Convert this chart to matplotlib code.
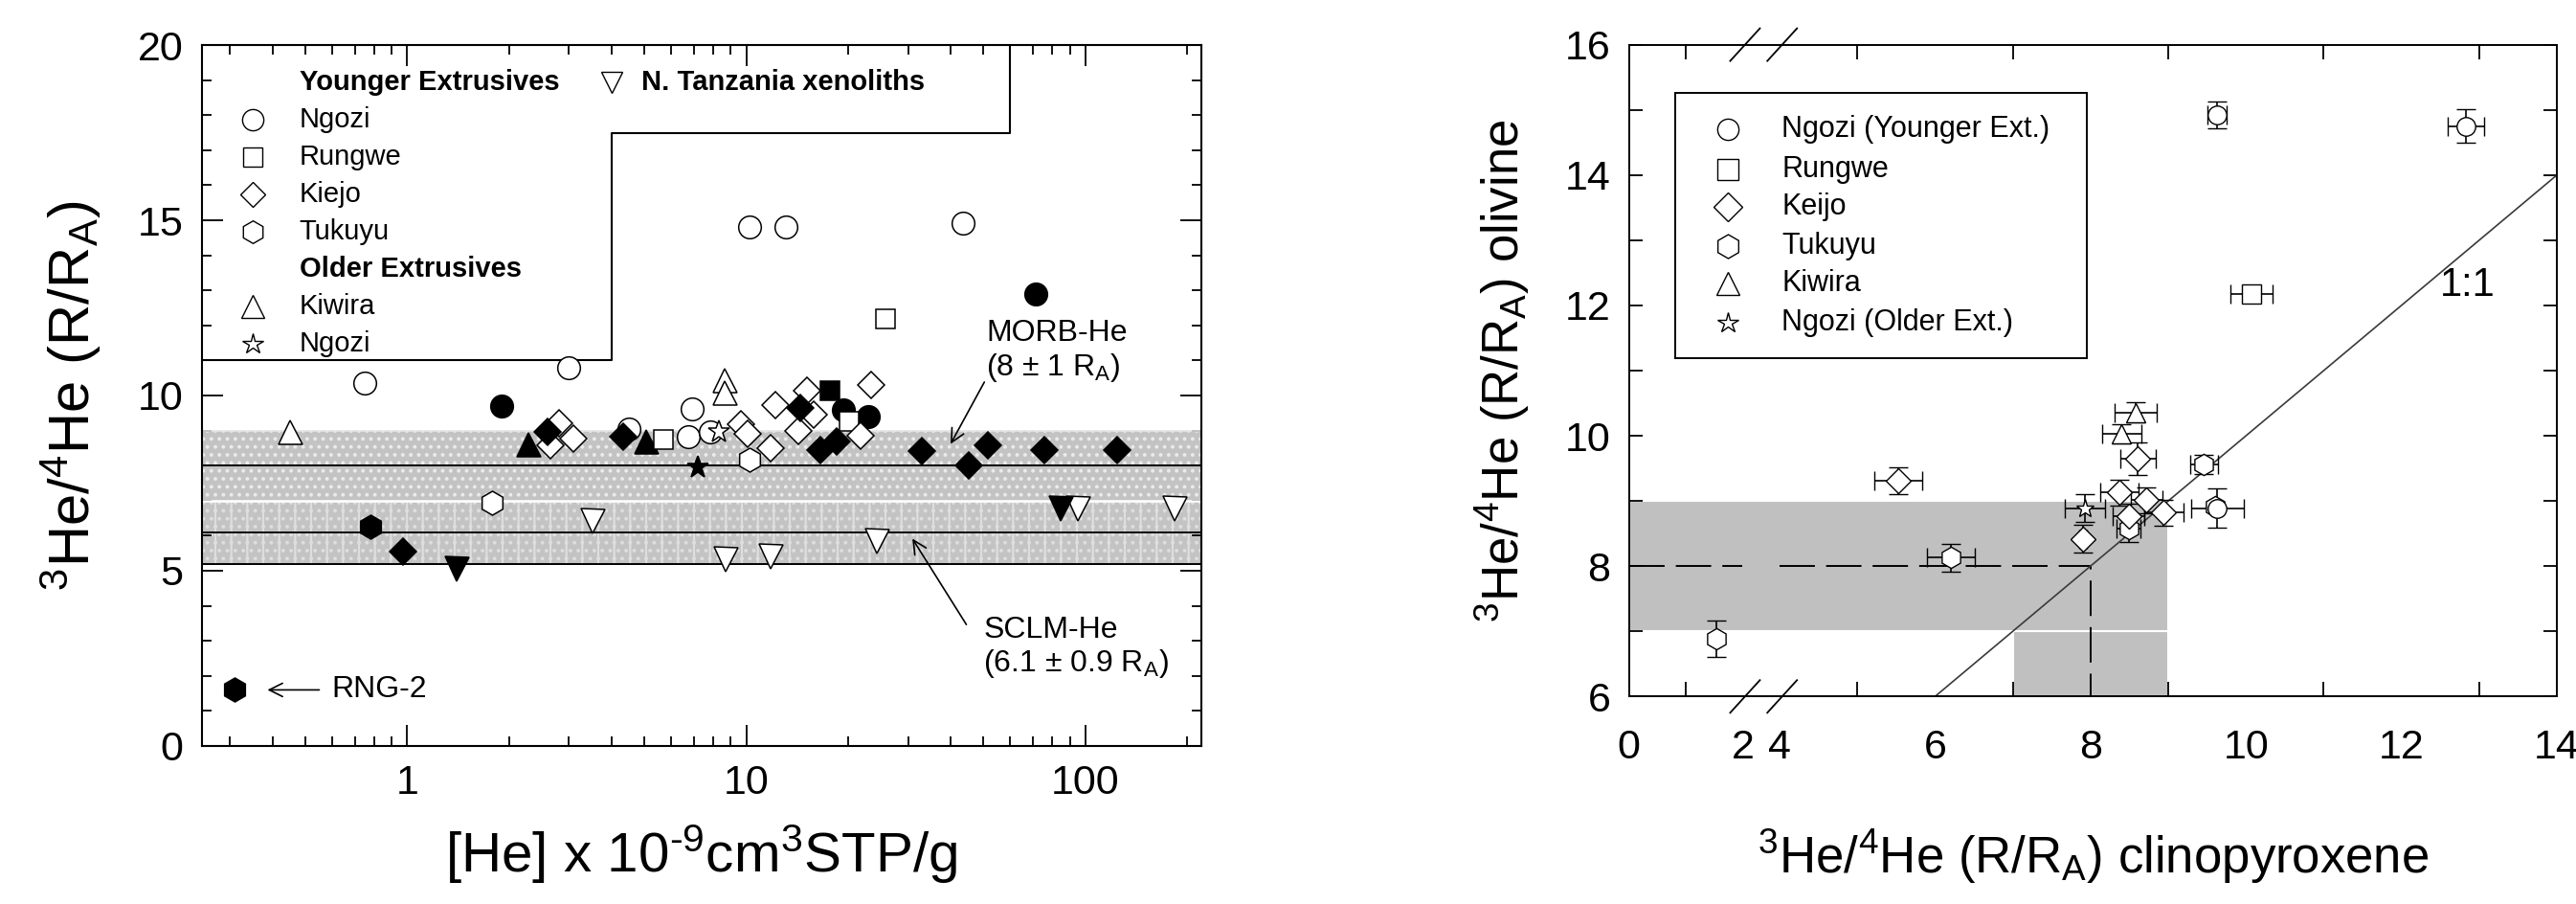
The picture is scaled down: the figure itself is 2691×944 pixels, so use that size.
import numpy as np
import matplotlib
matplotlib.use("Agg")
import matplotlib.pyplot as plt
from matplotlib.ticker import LogLocator, NullFormatter, MultipleLocator, FixedLocator
from matplotlib.patches import Rectangle

plt.rcParams['font.family'] = ['Liberation Sans', 'DejaVu Sans']
plt.rcParams['mathtext.fontset'] = 'custom'
plt.rcParams['mathtext.rm'] = 'Liberation Sans'
plt.rcParams['mathtext.it'] = 'Liberation Sans'
plt.rcParams['mathtext.default'] = 'regular'
plt.rcParams['hatch.linewidth'] = 1.6

# ---------------- left panel: 3He/4He vs [He] ----------------
# open = white filled symbol, fill = black filled symbol
ngozi_open_x = [0.75, 2.99, 4.51, 6.74, 6.92, 7.84, 10.2, 13.1, 43.7]
ngozi_open_y = [10.35, 10.8, 9.05, 8.82, 9.61, 8.95, 14.8, 14.8, 14.93]
ngozi_fill_x = [1.90, 19.3, 22.9, 71.2]
ngozi_fill_y = [9.71, 9.6, 9.41, 12.9]
rungwe_open_x = [5.70, 20.1, 25.8]
rungwe_open_y = [8.73, 9.27, 12.18]
rungwe_fill_x = [17.7]
rungwe_fill_y = [10.13]
kiejo_open_x = [2.65, 2.80, 3.09, 9.64, 10.1, 11.8, 12.2, 14.2, 15.1, 15.8, 21.7, 23.4]
kiejo_open_y = [8.59, 9.22, 8.77, 9.18, 8.9, 8.5, 9.73, 9.0, 10.13, 9.45, 8.86, 10.29]
kiejo_fill_x = [0.97, 2.60, 4.32, 14.4, 16.5, 18.5, 33.0, 45.4, 51.7, 75.5, 123.7]
kiejo_fill_y = [5.55, 8.95, 8.82, 9.64, 8.45, 8.68, 8.41, 8.0, 8.59, 8.45, 8.45]
tukuyu_open_x = [1.78, 10.2]
tukuyu_open_y = [6.95, 8.18]
tukuyu_fill_x = [0.78, 0.31]
tukuyu_fill_y = [6.27, 1.62]
kiwira_open_x = [0.45, 8.65, 8.65]
kiwira_open_y = [8.95, 10.45, 10.09]
kiwira_fill_x = [2.28, 5.08]
kiwira_fill_y = [8.6, 8.68]
ngozi_old_open_x = [8.28]
ngozi_old_open_y = [8.95]
ngozi_old_fill_x = [7.19]
ngozi_old_fill_y = [7.95]
tanz_open_x = [3.52, 8.67, 11.8, 24.3, 95.2, 183]
tanz_open_y = [6.41, 5.32, 5.41, 5.85, 6.77, 6.77]
tanz_fill_x = [1.40, 84.8]
tanz_fill_y = [5.05, 6.77]

morb_band = (7.0, 9.0, 8.0)
sclm_band = (5.2, 7.0, 6.1)

legend_rows = ['Younger Extrusives', 'Ngozi', 'Rungwe', 'Kiejo', 'Tukuyu',
               'Older Extrusives', 'Kiwira', 'Ngozi']
legend_marks = [None, 'o', 's', 'D', 'h', None, '^', '*']

# ---------------- right panel: olivine vs clinopyroxene ----------------
# (cpx, cpx err, olivine, olivine err)
r_ngozi = dict(x=[9.63, 12.83, 9.63], xe=[0.12, 0.23, 0.34], y=[14.92, 14.75, 8.89], ye=[0.21, 0.26, 0.30])
r_rungwe = dict(x=[10.07], xe=[0.27], y=[12.17], ye=[0.10])
r_keijo = dict(x=[5.53, 8.61, 8.37, 8.72, 8.94, 8.49, 7.90],
               xe=[0.31, 0.23, 0.25, 0.20, 0.25, 0.20, 0.05],
               y=[9.31, 9.65, 9.13, 9.01, 8.82, 8.76, 8.42],
               ye=[0.20, 0.25, 0.20, 0.20, 0.20, 0.20, 0.21])
r_tukuyu = dict(x=[1.545, 6.20, 9.46, 8.49, 9.60], xe=[0.0, 0.31, 0.18, 0.15, 0.0],
                y=[6.89, 8.13, 9.56, 8.57, 8.92], ye=[0.28, 0.21, 0.15, 0.20, 0.0])
r_kiwira = dict(x=[8.58, 8.40], xe=[0.27, 0.25], y=[10.36, 10.03], ye=[0.15, 0.15])
r_ngozi_old = dict(x=[7.93], xe=[0.26], y=[8.89], ye=[0.21])

r_legend = ['Ngozi (Younger Ext.)', 'Rungwe', 'Keijo', 'Tukuyu', 'Kiwira', 'Ngozi (Older Ext.)']
r_legend_marks = ['o', 's', 'D', 'h', '^', '*']

fig = plt.figure(figsize=(26.91, 9.44), dpi=100)
axL = fig.add_axes([0.0784, 0.1748, 0.3880, 0.7754])
axR = fig.add_axes([0.6324, 0.2296, 0.3602, 0.7210])

# ---- left ----
axL.set_xscale('log')
axL.set_xlim(0.248, 220)
axL.set_ylim(0, 20)

axL.axhspan(morb_band[0], morb_band[1], facecolor='#c3c3c3', edgecolor='#ebebeb',
            hatch='..', lw=0, zorder=1)
axL.axhspan(sclm_band[0], sclm_band[1], facecolor='#c3c3c3', edgecolor='#dedede',
            hatch='|..', lw=0, zorder=1)
axL.axhline(morb_band[1], color='#e4e4e4', lw=1.2, zorder=2)
axL.axhline(morb_band[0], color='white', lw=1.8, zorder=2)
axL.axhline(morb_band[2], color='k', lw=1.4, zorder=2)
axL.axhline(sclm_band[2], color='k', lw=1.4, zorder=2)
axL.axhline(sclm_band[0], color='k', lw=1.4, zorder=2)

sizes = {'o': 17, 's': 15, 'D': 14.5, 'h': 18, '^': 18, '*': 17, 'v': 18}


def pts(ax, x, y, m, filled, ms=None):
    ax.plot(x, y, ls='none', marker=m, ms=ms or sizes[m],
            mfc='k' if filled else 'white', mec='k', mew=1.1, zorder=5)


pts(axL, ngozi_fill_x, ngozi_fill_y, 'o', True)
pts(axL, ngozi_open_x, ngozi_open_y, 'o', False)
pts(axL, kiwira_open_x, kiwira_open_y, '^', False)
pts(axL, kiwira_fill_x, kiwira_fill_y, '^', True)
pts(axL, rungwe_open_x, rungwe_open_y, 's', False)
pts(axL, rungwe_fill_x, rungwe_fill_y, 's', True)
pts(axL, tukuyu_open_x, tukuyu_open_y, 'h', False)
pts(axL, tukuyu_fill_x, tukuyu_fill_y, 'h', True)
pts(axL, kiejo_open_x, kiejo_open_y, 'D', False)
pts(axL, kiejo_fill_x, kiejo_fill_y, 'D', True)
pts(axL, ngozi_old_open_x, ngozi_old_open_y, '*', False)
pts(axL, ngozi_old_fill_x, ngozi_old_fill_y, '*', True)
pts(axL, tanz_open_x, tanz_open_y, 'v', False)
pts(axL, tanz_fill_x, tanz_fill_y, 'v', True)

# legend box (stepped outline)
axL.plot([0.248, 4.0, 4.0, 60, 60], [11, 11, 17.5, 17.5, 20], color='k', lw=1.5, zorder=4)
row_y = [18.93, 17.86, 16.8, 15.75, 14.68, 13.6, 12.55, 11.47]
for lab, m, yy in zip(legend_rows, legend_marks, row_y):
    if m is None:
        axL.text(0.48, yy, lab, fontsize=21, fontweight='bold', va='center', ha='left')
    else:
        axL.plot([0.35], [yy], ls='none', marker=m, ms=sizes[m] - 1, mfc='white',
                 mec='k', mew=1.0)
        axL.text(0.48, yy, lab, fontsize=21, va='center', ha='left')
axL.plot([4.0], [18.93], ls='none', marker='v', ms=16, mfc='white', mec='k', mew=1.0)
axL.text(4.9, 18.93, 'N. Tanzania xenoliths', fontsize=21, fontweight='bold', va='center')

axL.text(51, 11.25, 'MORB-He\n(8 ± 1 R$_A$)', fontsize=23, va='center', ha='left',
         linespacing=1.15)
axL.annotate('', xy=(39.7, 8.55), xytext=(50.8, 10.45),
             arrowprops=dict(arrowstyle='->', lw=1.2, color='k', mutation_scale=25))
axL.text(50, 2.8, 'SCLM-He\n(6.1 ± 0.9 R$_A$)', fontsize=23, va='center', ha='left',
         linespacing=1.15)
axL.annotate('', xy=(30.6, 5.98), xytext=(45, 3.4),
             arrowprops=dict(arrowstyle='->', lw=1.2, color='k', mutation_scale=25))
axL.text(0.6, 1.6, 'RNG-2', fontsize=23, va='center', ha='left')
axL.annotate('', xy=(0.38, 1.6), xytext=(0.56, 1.6),
             arrowprops=dict(arrowstyle='->', lw=1.2, color='k', mutation_scale=25))

axL.set_xticks([1, 10, 100], ['1', '10', '100'])
axL.xaxis.set_minor_locator(LogLocator(base=10, subs=np.arange(2, 10)))
axL.xaxis.set_minor_formatter(NullFormatter())
axL.yaxis.set_major_locator(MultipleLocator(5))
axL.yaxis.set_minor_locator(MultipleLocator(1))
axL.tick_params(which='both', direction='in', top=True, right=True, labelsize=31, pad=14,
                width=1.3)
axL.tick_params(which='major', length=16)
axL.tick_params(which='minor', length=7.5)
for s in axL.spines.values():
    s.set_linewidth(1.5)
axL.set_ylabel(r'$^3$He/$^4$He (R/R$_A$)', fontsize=43)
axL.yaxis.set_label_coords(-0.099, 0.5)
axL.set_xlabel(r'[He] x 10$^{\text{-}9}$cm$^3$STP/g', fontsize=42)
axL.xaxis.set_label_coords(0.5, -0.11)

# ---- right (broken x axis between 2 and 4) ----
S, G2, G4 = 0.730, 1.461, 1.937


def fwd(x):
    x = np.asarray(x, float)
    return np.where(x <= 2, x * S, np.where(x >= 4, G4 + (x - 4), G2 + (x - 2) * (G4 - G2) / 2))


def inv(u):
    u = np.asarray(u, float)
    return np.where(u <= G2, u / S, np.where(u >= G4, 4 + (u - G4), 2 + (u - G2) * 2 / (G4 - G2)))


axR.set_xscale('function', functions=(fwd, inv))
axR.set_xlim(0, 14)
axR.set_ylim(6, 16)

axR.add_patch(Rectangle((7, 6), 2, 1, facecolor='#c0c0c0', edgecolor='white', lw=1.5, zorder=1))
axR.add_patch(Rectangle((0, 7), 9, 2, facecolor='#c0c0c0', edgecolor='white', lw=1.5, zorder=1))
axR.plot([0, 2], [8, 8], color='k', lw=1.4, dashes=(19, 6), zorder=2)
axR.plot([4, 8, 8], [8, 8, 6], color='k', lw=1.4, dashes=(19, 6), zorder=2)
axR.plot([6, 14], [6, 14], color='#3a3a3a', lw=1.2, zorder=2)
axR.text(12.5, 12.3, '1:1', fontsize=30, va='center', ha='left')

r_sizes = {'o': 14, 's': 14, 'D': 13, 'h': 16, '^': 15, '*': 14}
for d, m in [(r_tukuyu, 'h'), (r_keijo, 'D'), (r_kiwira, '^'), (r_ngozi, 'o'),
             (r_rungwe, 's'), (r_ngozi_old, '*')]:
    axR.errorbar(d['x'], d['y'], xerr=d['xe'], yerr=d['ye'], fmt=m, ms=r_sizes[m],
                 mfc='white', mec='k', mew=1.0, ecolor='k', elinewidth=1.2,
                 capsize=7, capthick=1.6, zorder=5)

# legend
axR.add_patch(Rectangle((0.0494, 0.519), 0.4441, 0.4075, transform=axR.transAxes,
                        facecolor='white', edgecolor='k', lw=1.4, zorder=6))
ry = [0.870, 0.809, 0.751, 0.691, 0.633, 0.574]
for lab, m, yy in zip(r_legend, r_legend_marks, ry):
    axR.plot([0.1063], [yy], transform=axR.transAxes, ls='none', marker=m,
             ms=r_sizes[m] + 2, mfc='white', mec='k', mew=1.0, zorder=7)
    axR.text(0.1643, yy, lab, transform=axR.transAxes, fontsize=22, va='center',
             ha='left', zorder=7)

# break marks on top and bottom spines
for xc in (0.125, 0.165):
    for yc in (0.0, 1.0):
        axR.plot([xc - 0.016, xc + 0.016], [yc - 0.025, yc + 0.025], transform=axR.transAxes,
                 color='k', lw=1.3, clip_on=False, zorder=8)

axR.set_xticks([0, 2, 4, 6, 8, 10, 12, 14], ['0', '2', '4', '6', '8', '10', '12', '14'])
axR.xaxis.set_minor_locator(FixedLocator([1, 5, 6, 7, 8, 9, 10, 11, 12, 13]))
axR.yaxis.set_major_locator(MultipleLocator(2))
axR.yaxis.set_minor_locator(MultipleLocator(1))
axR.tick_params(which='both', direction='in', top=True, right=True, labelsize=31, width=1.3)
axR.tick_params(axis='x', which='major', length=0, pad=24)
axR.tick_params(axis='x', which='minor', length=11)
axR.tick_params(axis='y', which='both', length=10, pad=14)
for s in axR.spines.values():
    s.set_linewidth(1.4)
axR.set_ylabel(r'$^3$He/$^4$He (R/R$_A$) olivine', fontsize=38)
axR.yaxis.set_label_coords(-0.105, 0.5)
axR.set_xlabel(r'$^3$He/$^4$He (R/R$_A$) clinopyroxene', fontsize=38)
axR.xaxis.set_label_coords(0.5, -0.2)

fig.savefig('out.png', dpi=100)
